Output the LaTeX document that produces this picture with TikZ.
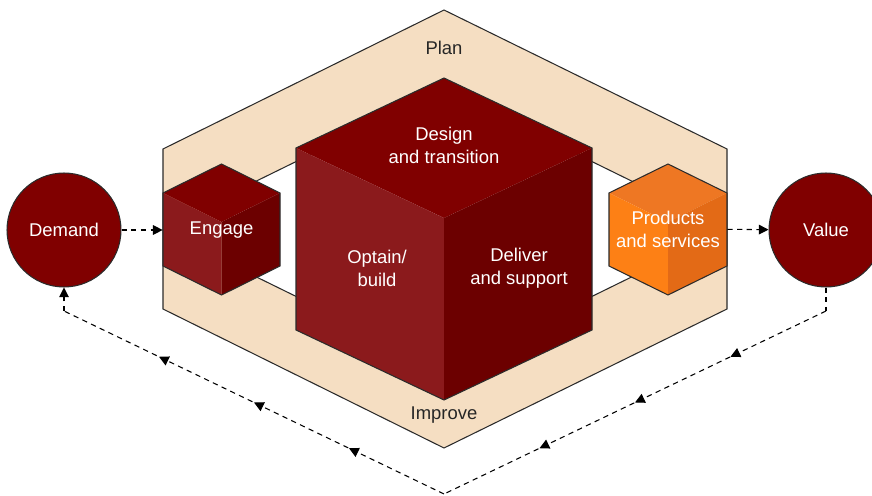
\documentclass[tikz,border=0pt]{standalone}
\usepackage{fontspec}
\setmainfont{Liberation Sans}
\usetikzlibrary{arrows.meta,decorations.markings}

\definecolor{planbg}{HTML}{F5DEC2}
\definecolor{redtop}{HTML}{800000}
\definecolor{redleft}{HTML}{8B1A1C}
\definecolor{redright}{HTML}{6C0000}
\definecolor{orgtop}{HTML}{EE7723}
\definecolor{orgleft}{HTML}{FD8015}
\definecolor{orgright}{HTML}{E36A16}
\definecolor{edge}{HTML}{2B2B2B}

% iso block: centre x, top y, half width, rise, side height, top/left/right fill
\newcommand{\isoblock}[8]{%
  \fill[#6] (#1,#2) -- (#1-#3,#2+#4) -- (#1,#2+2*#4) -- (#1+#3,#2+#4) -- cycle;
  \fill[#7] (#1-#3,#2+#4) -- (#1,#2+2*#4) -- (#1,#2+2*#4+#5) -- (#1-#3,#2+#4+#5) -- cycle;
  \fill[#8] (#1+#3,#2+#4) -- (#1,#2+2*#4) -- (#1,#2+2*#4+#5) -- (#1+#3,#2+#4+#5) -- cycle;
  \draw[outline] (#1,#2) -- (#1+#3,#2+#4) -- (#1+#3,#2+#4+#5) -- (#1,#2+2*#4+#5)
    -- (#1-#3,#2+#4+#5) -- (#1-#3,#2+#4) -- cycle;
}

\begin{document}
\begin{tikzpicture}[
    x=0.02cm, y=-0.02cm,
    outline/.style={draw=edge, line width=0.6pt, line join=miter},
    txt/.style={align=center, font=\fontsize{10.5}{13}\selectfont},
    cubetext/.style={txt, text=white},
    bandtext/.style={txt, text=black!85},
    stage/.style={circle, draw=edge, line width=0.6pt, fill=redtop, minimum size=2.28cm, inner sep=0pt, cubetext},
    flow/.style={line width=0.6pt, dash pattern=on 3pt off 2.5pt},
    tip/.style={-{Triangle[length=5.5pt, width=5.5pt]}},
    arr/.style={flow, tip},
    midarrows/.style={postaction={decorate}, decoration={markings,
        mark=at position 0.25 with {\arrow{Triangle[length=5.5pt, width=5.5pt]}},
        mark=at position 0.5 with {\arrow{Triangle[length=5.5pt, width=5.5pt]}},
        mark=at position 0.75 with {\arrow{Triangle[length=5.5pt, width=5.5pt]}}}}
]
\useasboundingbox (0,0) rectangle (872,496);

% plan / improve band
\fill[planbg, even odd rule]
  (444,10) -- (727,149) -- (727,309) -- (444,448) -- (163,309) -- (163,149) -- cycle
  (444,89) -- (656,193) -- (656,265) -- (444,369) -- (232,265) -- (232,193) -- cycle;
\draw[outline] (444,10) -- (727,149) -- (727,309) -- (444,448) -- (163,309) -- (163,149) -- cycle;
\draw[outline] (444,89) -- (656,193) -- (656,265) -- (444,369) -- (232,265) -- (232,193) -- cycle;
\node[bandtext] (plan) at (444,48) {Plan};
\node[bandtext] (improve) at (444,415) {Improve};

% blocks
\isoblock{444}{78}{148}{70}{182}{redtop}{redleft}{redright}
\isoblock{221.5}{164}{58.5}{29}{73}{redtop}{redleft}{redright}
\isoblock{668}{164}{59}{29}{73}{orgtop}{orgleft}{orgright}

\node[cubetext] (design) at (444,145) {Design\\and transition};
\node[cubetext] (obtain) at (377,268) {Optain/\\build};
\node[cubetext] (deliver) at (519,268) {Deliver\\and support};
\node[cubetext, minimum width=2.34cm] (engage) at (221.5,230) {Engage};
\node[cubetext, minimum width=2.36cm] (products) at (668,229) {Products\\and services};

% demand and value
\node[stage] (demand) at (64,230) {Demand};
\node[stage] (value) at (826,230) {Value};

\draw[arr] (demand) -- (engage);
\draw[arr] (products) -- (value);

% feedback loop
\coordinate (loopR) at (826,311);
\coordinate (loopB) at (444,494);
\coordinate (loopL) at (64,311);
\draw[flow] (value) -- (loopR);
\draw[flow, midarrows] (loopR) -- (loopB);
\draw[flow, midarrows] (loopB) -- (loopL);
\draw[arr] (loopL) -- (demand);
\end{tikzpicture}
\end{document}
